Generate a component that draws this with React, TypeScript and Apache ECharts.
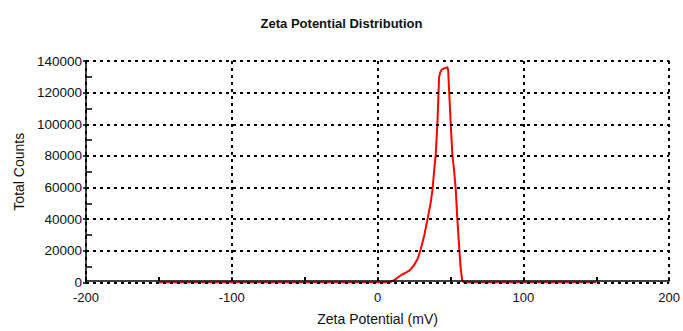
import React, { useEffect, useRef } from "react";
import * as echarts from "echarts";

const titleText = "Zeta Potential Distribution";
const xAxisName = "Zeta Potential (mV)";
const yAxisName = "Total Counts";

// Zeta potential (mV) and total counts
const zetaMv = [
  -150, 8, 11, 13, 16, 19, 22, 25, 27.5, 29.7, 32, 34.3, 36.5, 37.7, 38.8, 39.9,
  41.1, 42.2, 43.1, 44, 46, 47.9, 48.4, 49.1, 50.2, 51.3, 52.5, 53.6, 54.7,
  55.9, 57, 58.1, 59.3, 150,
];
const totalCounts = [
  0, 0, 1400, 2500, 4600, 6000, 7700, 10900, 15000, 21300, 29700, 40200, 50800,
  59000, 70500, 81000, 101900, 130000, 133000, 134500, 135500, 136000, 134300,
  120700, 99800, 81000, 70500, 59000, 40200, 23400, 8800, 1400, 0, 0,
];

const xMin = -200;
const xMax = 200;
const xStep = 100;
const yMin = 0;
const yMax = 140000;
const yStep = 20000;

const FONT = "'Liberation Sans', Arial, sans-serif";

export default function App() {
  const ref = useRef<HTMLDivElement>(null);

  useEffect(() => {
    if (!ref.current) return;
    const chart = echarts.init(ref.current, undefined, { renderer: "svg" });
    const dotted = { color: "#000", width: 2, type: [3, 4] as number[] };
    chart.setOption({
      animation: false,
      backgroundColor: "#fff",
      textStyle: { fontFamily: FONT, color: "#000" },
      title: {
        text: titleText,
        left: "center",
        top: 12,
        textStyle: { fontFamily: FONT, fontSize: 13, fontWeight: "bold", color: "#111" },
      },
      grid: { left: 86, right: 10, top: 61, bottom: 47 },
      xAxis: {
        type: "value",
        min: xMin,
        max: xMax,
        interval: xStep,
        name: xAxisName,
        nameLocation: "middle",
        nameGap: 31,
        nameTextStyle: { fontFamily: FONT, fontSize: 14, color: "#111" },
        z: 10,
        offset: -1.5,
        axisLine: { show: true, onZero: false, lineStyle: { color: "#000", width: 1.5 } },
        axisTick: { show: true, inside: true, length: 4, lineStyle: { color: "#000", width: 1.5 } },
        minorTick: { show: true, splitNumber: 2, length: 4, lineStyle: { color: "#000", width: 2 } },
        axisLabel: { fontFamily: FONT, fontSize: 13, color: "#111", margin: 10 },
        splitLine: { show: true, lineStyle: dotted },
      },
      yAxis: {
        type: "value",
        min: yMin,
        max: yMax,
        interval: yStep,
        name: yAxisName,
        nameLocation: "middle",
        nameGap: 59,
        nameTextStyle: { fontFamily: FONT, fontSize: 14, color: "#111" },
        z: 10,
        axisLine: { show: true, onZero: false, lineStyle: { color: "#000", width: 1.5 } },
        axisTick: { show: true, inside: false, length: 3, lineStyle: { color: "#000", width: 1.5 } },
        minorTick: { show: true, splitNumber: 2, length: -6, lineStyle: { color: "#000", width: 1.5 } },
        axisLabel: {
          fontFamily: FONT,
          fontSize: 13.5,
          color: "#111",
          margin: 4,
          formatter: (v: number) => String(v),
        },
        splitLine: { show: true, lineStyle: dotted },
      },
      series: [
        {
          type: "line",
          data: zetaMv.map((x, i) => [x, totalCounts[i]]),
          showSymbol: false,
          symbol: "none",
          lineStyle: { color: "#ff0000", width: 2 },
          z: 2,
        },
      ],
    });
    return () => chart.dispose();
  }, []);

  return (
    <div
      ref={ref}
      style={{ position: "fixed", left: 0, top: 0, width: 683, height: 331, background: "#fff" }}
    />
  );
}
